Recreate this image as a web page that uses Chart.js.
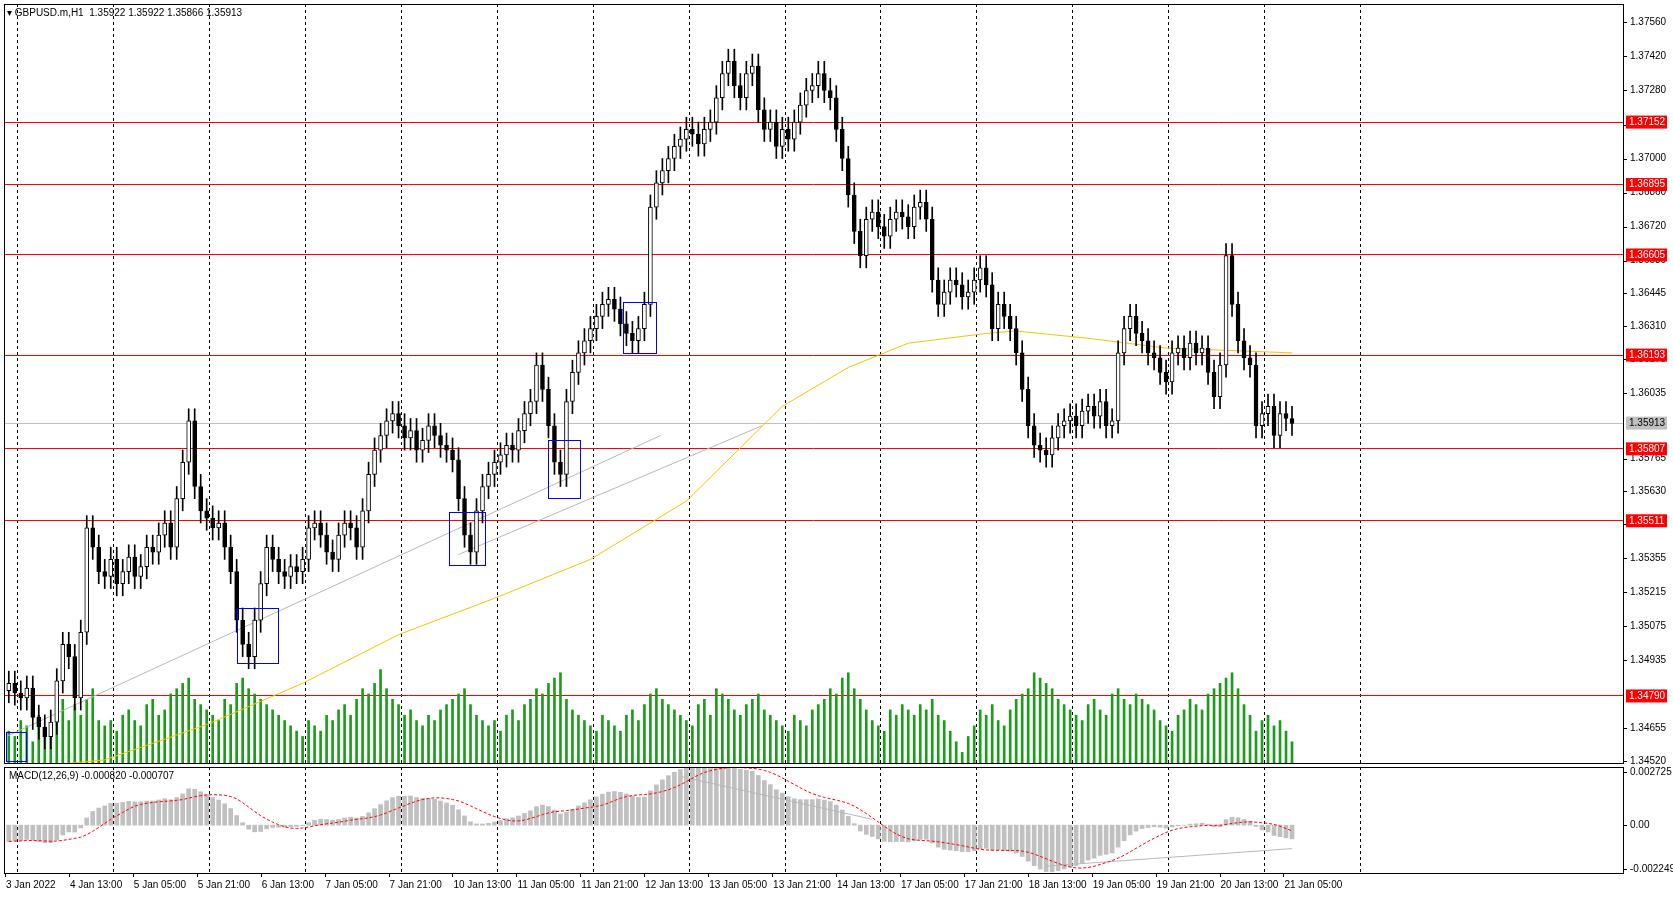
<!DOCTYPE html>
<html><head><meta charset="utf-8">
<script src="https://cdn.jsdelivr.net/npm/chart.js@4"></script>
<style>
body{margin:0;background:#fff;font-family:"Liberation Sans",Arial,sans-serif}
#main{position:absolute;left:0;top:0;width:1673px;height:764px}
#macd{position:absolute;left:0;top:764px;width:1673px;height:133px}
</style></head><body>
<div id="main"><canvas id="c1"></canvas></div>
<div id="macd"><canvas id="c2"></canvas></div>
<script>
// hourly closes, GBPUSD
const closes = [
1.3484,1.3480,1.3478,1.3482,1.3470,1.3466,1.3462,1.3468,1.3485,1.3500,1.3495,1.3478,1.3505,1.3548,1.3540,1.3530,
1.3528,1.3535,1.3525,1.3530,1.3536,1.3528,1.3532,1.3540,1.3538,1.3545,1.3550,1.3540,1.3560,1.3575,1.3592,1.3565,
1.3555,1.3552,1.3548,1.3550,1.3540,1.3530,1.3510,1.3500,1.3495,1.3510,1.3525,1.3540,1.3535,1.3530,1.3528,1.3532,
1.3530,1.3535,1.3548,1.3550,1.3545,1.3538,1.3535,1.3545,1.3550,1.3548,1.3540,1.3555,1.3570,1.3580,1.3586,1.3592,
1.3595,1.3590,1.3585,1.3588,1.3580,1.3584,1.3590,1.3586,1.3582,1.3580,1.3576,1.3560,1.3545,1.3538,1.3555,1.3565,
1.3570,1.3575,1.3578,1.3582,1.3580,1.3588,1.3595,1.3600,1.3615,1.3605,1.3590,1.3575,1.3570,1.3600,1.3612,1.3620,
1.3625,1.3630,1.3635,1.3640,1.3642,1.3638,1.3632,1.3628,1.3625,1.3630,1.3640,1.3680,1.3690,1.3695,1.3700,1.3705,
1.3708,1.3712,1.3710,1.3706,1.3712,1.3715,1.3725,1.3735,1.3740,1.3730,1.3725,1.3735,1.3738,1.3720,1.3712,1.3715,
1.3705,1.3712,1.3708,1.3715,1.3722,1.3728,1.3730,1.3735,1.3728,1.3725,1.3712,1.3700,1.3685,1.3670,1.3660,1.3675,
1.3678,1.3672,1.3668,1.3675,1.3678,1.3676,1.3672,1.3680,1.3682,1.3675,1.3650,1.3640,1.3645,1.3650,1.3648,1.3643,
1.3645,1.3650,1.3655,1.3648,1.3630,1.3640,1.3635,1.3630,1.3620,1.3605,1.3590,1.3582,1.3580,1.3578,1.3585,1.3590,
1.3592,1.3594,1.3590,1.3596,1.3598,1.3594,1.3600,1.3590,1.3592,1.3620,1.3630,1.3635,1.3628,1.3625,1.3620,1.3618,
1.3612,1.3608,1.3620,1.3622,1.3618,1.3624,1.3620,1.3622,1.3612,1.3602,1.3615,1.3660,1.3640,1.3625,1.3618,1.3615,
1.3590,1.3595,1.3598,1.3586,1.3595,1.3593,1.3591];
const volumes = [
30,25,40,35,20,45,30,25,50,60,40,55,45,60,70,40,
35,40,30,45,50,40,35,55,60,45,50,65,70,75,80,60,
55,50,45,40,60,55,75,80,70,65,60,55,50,45,40,35,
30,25,40,35,30,45,40,50,55,45,60,70,65,75,88,70,
60,55,45,50,40,35,45,40,50,55,60,65,70,55,45,40,
35,40,30,45,50,40,55,60,70,65,75,80,85,60,50,45,
40,35,30,45,40,35,30,45,50,40,55,65,70,60,55,50,
45,40,35,55,60,45,70,65,60,50,45,55,60,65,50,45,
40,35,30,45,40,35,50,55,60,70,65,80,85,70,60,50,
40,35,30,50,45,55,50,45,55,50,60,45,40,30,20,10,
25,35,50,45,55,40,35,50,60,65,70,85,80,75,70,60,
55,50,45,40,55,60,50,45,65,70,60,55,65,60,55,50,
40,35,30,45,50,60,55,50,65,70,75,80,85,70,55,45,
30,40,45,35,40,30,20];
const maIdx = [1.6,16,33,49,65,81,97,113,129,140,150,163,168,180,193,214];
const maVals = [1.34490,1.34525,1.3467,1.3484,1.3504,1.3519,1.3535,1.3559,1.3598,1.3614,1.3624,1.3628,1.3629,1.3626,1.3622,1.3620];
const levels = [1.37152,1.36895,1.36605,1.36193,1.35807,1.35511,1.34790];
const lastPrice = 1.35913;
const priceTicks = [1.37560,1.37420,1.37280,1.37140,1.37000,1.36860,1.36720,1.36580,1.36445,1.36310,1.36175,1.36035,1.35765,1.35630,1.35495,1.35355,1.35215,1.35075,1.34935,1.34655,1.34520];
const boxes = [[-0.5,2.8,1.34639,1.34520],[38,44.8,1.35148,1.34920],[73.4,79.4,1.35544,1.35324],[90,95.4,1.35843,1.35605],[102.5,108,1.36409,1.36198]];
const trendA = [[-0.5,1.3462],[108.7,1.3586]];
const trendB = [[75,1.3537],[125.6,1.3590]];
const macdTrendA = [[112,0.0025],[144,0.0003]];
const macdTrendB = [[173,-0.0021],[214,-0.0012]];
const timeLabels = ["3 Jan 2022","4 Jan 13:00","5 Jan 05:00","5 Jan 21:00","6 Jan 13:00","7 Jan 05:00","7 Jan 21:00","10 Jan 13:00","11 Jan 05:00","11 Jan 21:00","12 Jan 13:00","13 Jan 05:00","13 Jan 21:00","14 Jan 13:00","17 Jan 05:00","17 Jan 21:00","18 Jan 13:00","19 Jan 05:00","19 Jan 21:00","20 Jan 13:00","21 Jan 05:00"];
const WICK = 0.0005;

const opens = closes.map((c, i) => i ? closes[i - 1] : c - 0.0003);
const highs = closes.map((c, i) => Math.max(c, opens[i]) + WICK);
const lows = closes.map((c, i) => Math.min(c, opens[i]) - WICK);

// MACD from closes
let e12 = 1.3484, e26 = 1.3493;
const macd = [], signal = [];
closes.forEach(c => {
  e12 += (c - e12) * 2 / 13;
  e26 += (c - e26) * 2 / 27;
  macd.push(e12 - e26);
  const w = macd.slice(-9);
  signal.push(w.reduce((a, b) => a + b, 0) / w.length);
});

const FONT = '10px "Liberation Sans", Arial';
const XMIN = -0.8, XMAX = 269.2;
const gridIdx = [];
for (let k = 0; k < 15; k++) gridIdx.push(1.37 + 16 * k);

function vgrid(chart) {
  const ctx = chart.ctx, a = chart.chartArea, xs = chart.scales.x;
  ctx.save();
  ctx.strokeStyle = '#000'; ctx.lineWidth = 1; ctx.setLineDash([3, 3]);
  gridIdx.forEach(i => {
    const x = Math.round(xs.getPixelForValue(i)) + 0.5;
    ctx.beginPath(); ctx.moveTo(x, a.top); ctx.lineTo(x, a.bottom); ctx.stroke();
  });
  ctx.restore();
}

const mainPlugin = {
  id: 'mainDeco',
  beforeDatasetsDraw(chart) {
    vgrid(chart);
    const ctx = chart.ctx, a = chart.chartArea, ys = chart.scales.y;
    ctx.save();
    ctx.lineWidth = 1;
    levels.forEach(p => {
      const y = Math.round(ys.getPixelForValue(p)) + 0.5;
      ctx.strokeStyle = '#ff0000';
      ctx.beginPath(); ctx.moveTo(a.left, y); ctx.lineTo(a.right, y); ctx.stroke();
    });
    const ly = Math.round(ys.getPixelForValue(lastPrice)) + 0.5;
    ctx.strokeStyle = '#c0c0c0';
    ctx.beginPath(); ctx.moveTo(a.left, ly); ctx.lineTo(a.right, ly); ctx.stroke();
    ctx.restore();
  },
  afterDatasetsDraw(chart) {
    const ctx = chart.ctx, a = chart.chartArea, ys = chart.scales.y, xs = chart.scales.x;
    ctx.save();
    ctx.strokeStyle = '#0000ff'; ctx.lineWidth = 1;
    boxes.forEach(b => {
      const x1 = xs.getPixelForValue(b[0]), x2 = xs.getPixelForValue(b[1]);
      const y1 = ys.getPixelForValue(b[2]), y2 = ys.getPixelForValue(b[3]);
      ctx.strokeRect(Math.round(x1) + 0.5, Math.round(y1) + 0.5, Math.round(x2 - x1), Math.round(y2 - y1));
    });
    ctx.strokeStyle = '#000';
    ctx.strokeRect(a.left + 0.5, a.top + 0.5, a.right - a.left, a.bottom - a.top);
    ctx.font = FONT; ctx.textBaseline = 'middle'; ctx.fillStyle = '#000';
    priceTicks.forEach(p => {
      const y = ys.getPixelForValue(p);
      ctx.beginPath(); ctx.moveTo(a.right, Math.round(y) + 0.5); ctx.lineTo(a.right + 4, Math.round(y) + 0.5); ctx.stroke();
      ctx.fillText(p.toFixed(5), a.right + 7, y);
    });
    levels.forEach(p => {
      const y = ys.getPixelForValue(p);
      ctx.fillStyle = '#ff0000'; ctx.fillRect(a.right + 3, y - 6, 41, 13);
      ctx.fillStyle = '#fff'; ctx.fillText(p.toFixed(5), a.right + 6, y + 0.5);
    });
    const y = ys.getPixelForValue(lastPrice);
    ctx.fillStyle = '#c0c0c0'; ctx.fillRect(a.right + 3, y - 6, 41, 13);
    ctx.fillStyle = '#000'; ctx.fillText(lastPrice.toFixed(5), a.right + 6, y + 0.5);
    ctx.textBaseline = 'alphabetic';
    ctx.fillText('\u25BE GBPUSD.m,H1  1.35922 1.35922 1.35866 1.35913', 7, 16);
    ctx.restore();
  }
};

const pts = (arr) => arr.map(p => ({ x: p[0], y: p[1] }));

new Chart(document.getElementById('c1'), {
  type: 'bar',
  data: {
    datasets: [
      { type: 'bar', yAxisID: 'yv', grouped: false, barThickness: 2, backgroundColor: '#1e9b1e',
        data: volumes.map((v, i) => ({ x: i, y: v })), order: 5 },
      { type: 'line', data: maIdx.map((x, i) => ({ x, y: maVals[i] })), borderColor: '#f5c400', borderWidth: 1, pointRadius: 0, order: 4 },
      { type: 'line', data: pts(trendA), borderColor: '#b8b8b8', borderWidth: 1, pointRadius: 0, order: 4 },
      { type: 'line', data: pts(trendB), borderColor: '#b8b8b8', borderWidth: 1, pointRadius: 0, order: 4 },
      { type: 'bar', grouped: false, barThickness: 1, backgroundColor: '#000',
        data: closes.map((c, i) => ({ x: i, y: [lows[i], highs[i]] })), order: 2 },
      { type: 'bar', grouped: false, barThickness: 4, borderColor: '#000', borderWidth: 1, borderSkipped: false,
        backgroundColor: closes.map((c, i) => c >= opens[i] ? '#fff' : '#000'),
        data: closes.map((c, i) => ({ x: i, y: [opens[i], c] })), order: 1 }
    ]
  },
  options: {
    responsive: true, maintainAspectRatio: false, animation: false,
    layout: { padding: { left: 4, right: 50, top: 4, bottom: 1 } },
    plugins: { legend: { display: false }, tooltip: { enabled: false } },
    scales: {
      x: { type: 'linear', min: XMIN, max: XMAX, offset: false, display: false },
      y: { min: 1.34512, max: 1.37636, display: false },
      yv: { min: 0, max: 715, display: false }
    }
  },
  plugins: [mainPlugin]
});

const macdPlugin = {
  id: 'macdDeco',
  beforeDatasetsDraw(chart) {
    vgrid(chart);
  },
  afterDatasetsDraw(chart) {
    const ctx = chart.ctx, a = chart.chartArea, ys = chart.scales.y, xs = chart.scales.x;
    ctx.save();
    ctx.strokeStyle = '#000'; ctx.lineWidth = 1;
    ctx.strokeRect(a.left + 0.5, a.top + 0.5, a.right - a.left, a.bottom - a.top);
    ctx.font = FONT; ctx.fillStyle = '#000'; ctx.textBaseline = 'middle';
    [[0.002725, '0.002725'], [0, '0.00'], [-0.002249, '-0.002249']].forEach(t => {
      const y = ys.getPixelForValue(t[0]);
      ctx.beginPath(); ctx.moveTo(a.right, Math.round(y) + 0.5); ctx.lineTo(a.right + 4, Math.round(y) + 0.5); ctx.stroke();
      ctx.fillText(t[1], a.right + 7, y);
    });
    ctx.textBaseline = 'alphabetic';
    ctx.fillText('MACD(12,26,9) -0.000820 -0.000707', 9, a.top + 12);
    timeLabels.forEach((t, k) => {
      const x = xs.getPixelForValue(-0.63 + k * 10.66);
      ctx.beginPath(); ctx.moveTo(Math.round(x) + 0.5, a.bottom); ctx.lineTo(Math.round(x) + 0.5, a.bottom + 4); ctx.stroke();
      ctx.fillText(t, x + 1, a.bottom + 15);
    });
    ctx.restore();
  }
};

new Chart(document.getElementById('c2'), {
  type: 'bar',
  data: {
    datasets: [
      { type: 'line', data: signal.map((v, i) => ({ x: i, y: v })), borderColor: '#ff0000', borderWidth: 1, borderDash: [3, 2], pointRadius: 0, order: 1 },
      { type: 'line', data: pts(macdTrendA), borderColor: '#b8b8b8', borderWidth: 1, pointRadius: 0, order: 1 },
      { type: 'line', data: pts(macdTrendB), borderColor: '#b8b8b8', borderWidth: 1, pointRadius: 0, order: 1 },
      { type: 'bar', grouped: false, barThickness: 4, backgroundColor: '#c0c0c0',
        data: macd.map((v, i) => ({ x: i, y: v })), order: 2 }
    ]
  },
  options: {
    responsive: true, maintainAspectRatio: false, animation: false,
    layout: { padding: { left: 4, right: 50, top: 3, bottom: 24 } },
    plugins: { legend: { display: false }, tooltip: { enabled: false } },
    scales: {
      x: { type: 'linear', min: XMIN, max: XMAX, offset: false, display: false },
      y: { min: -0.00245, max: 0.00298, display: false }
    }
  },
  plugins: [macdPlugin]
});
</script>
</body></html>
